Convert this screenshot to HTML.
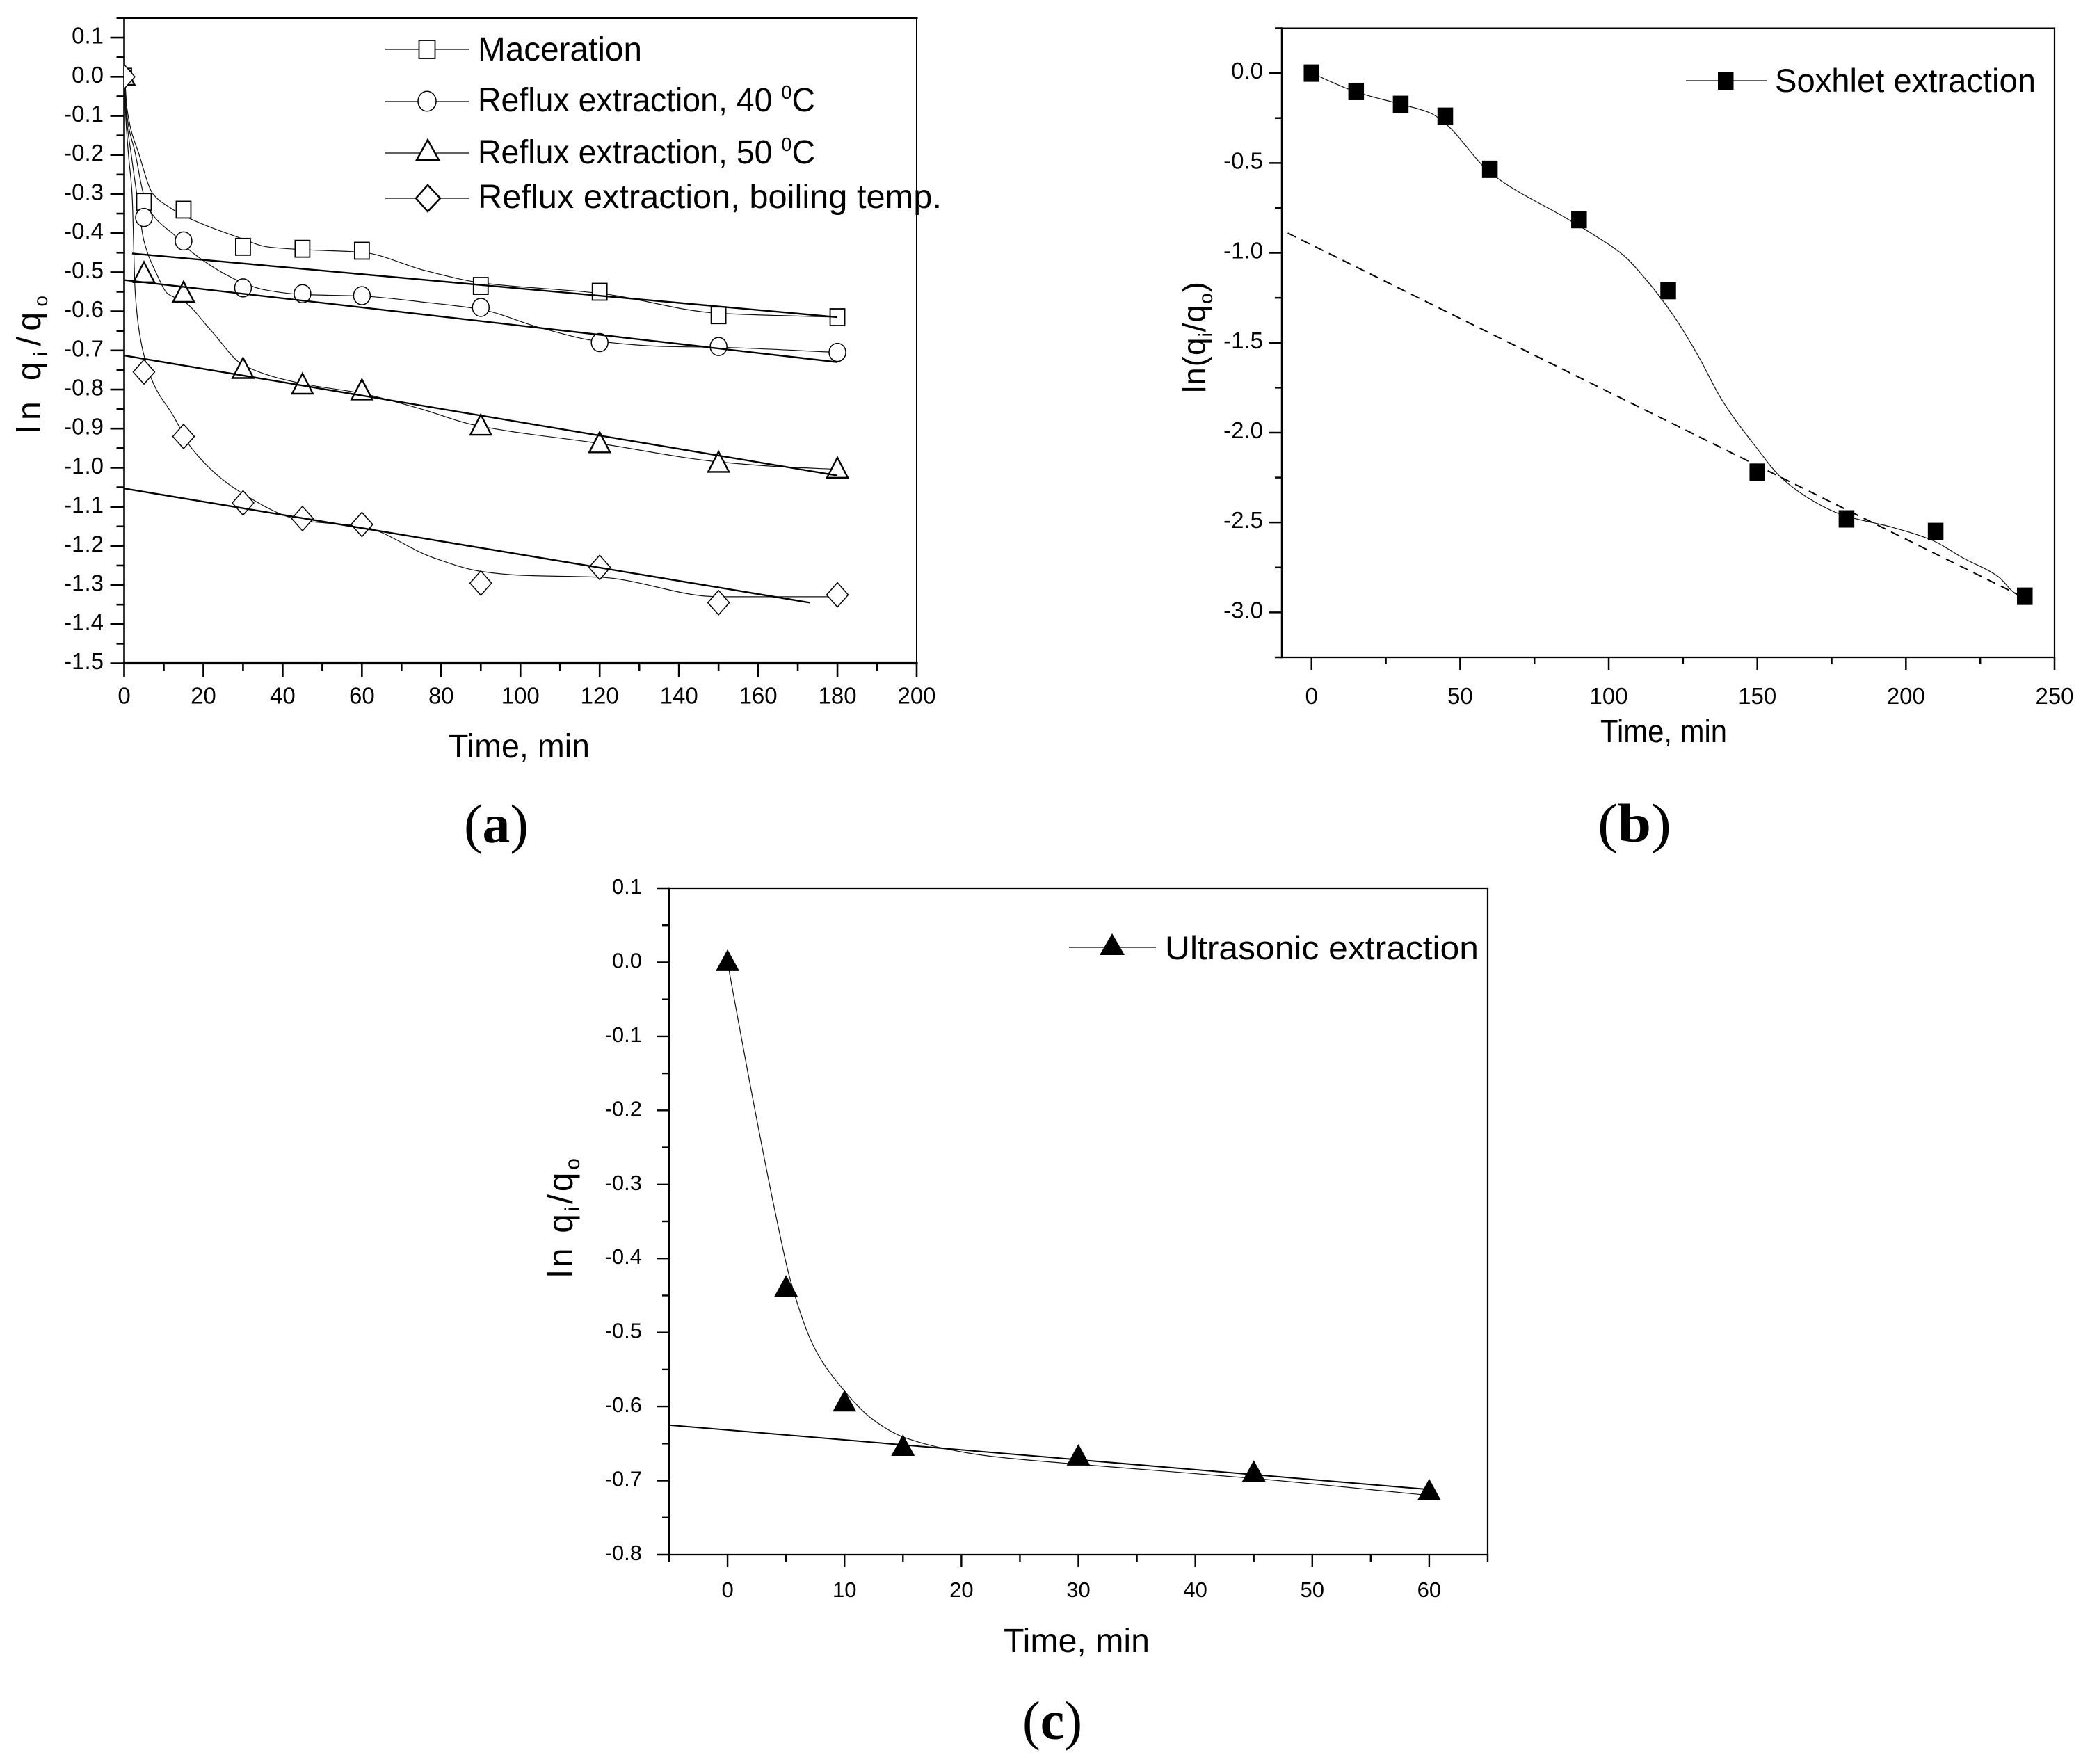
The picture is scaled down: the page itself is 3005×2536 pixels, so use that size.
<!DOCTYPE html>
<html lang="en">
<head>
<meta charset="utf-8">
<title>Extraction kinetics plots</title>
<style>
html,body{margin:0;padding:0;background:#fff;width:3005px;height:2536px;overflow:hidden}
svg{display:block}
text{font-family:"Liberation Sans",sans-serif;fill:#000}
.serif{font-family:"Liberation Serif",serif}
</style>
</head>
<body>
<svg id="figure" xmlns="http://www.w3.org/2000/svg" width="3005" height="2536" viewBox="0 0 3005 2536">
<rect width="3005" height="2536" fill="#fff"/>
<defs>
<clipPath id="clip-a"><rect x="179" y="25" width="1139" height="928"/></clipPath>
</defs>
<g id="panel-a"></g>
<g id="panel-b"></g>
<g id="panel-c"></g>

<g fill="none" stroke="#000">
<line x1="554" x2="675" y1="71" y2="71" stroke-width="1.2"/>
<rect x="602.5" y="58" width="23" height="26" fill="#fff" stroke-width="1.8"/>
<line x1="554" x2="675" y1="146" y2="146" stroke-width="1.2"/>
<ellipse cx="614" cy="145.5" rx="13" ry="14.3" fill="#fff" stroke-width="1.5"/>
<line x1="554" x2="675" y1="220" y2="220" stroke-width="1.2"/>
<polygon points="615,201 631,230 599,230" fill="#fff" stroke-width="2.5"/>
<line x1="554" x2="675" y1="285" y2="285" stroke-width="1.2"/>
<polygon points="615,266 633,285 615,304 598,285" fill="#fff" stroke-width="2.5"/>
</g>
<text x="687" y="87" font-size="48" textLength="236" lengthAdjust="spacingAndGlyphs">Maceration</text>
<text x="687" y="160" font-size="48" textLength="485" lengthAdjust="spacingAndGlyphs">Reflux extraction, 40 <tspan font-size="28" dy="-18">0</tspan><tspan dy="18">C</tspan></text>
<text x="687" y="235" font-size="48" textLength="485" lengthAdjust="spacingAndGlyphs">Reflux extraction, 50 <tspan font-size="28" dy="-18">0</tspan><tspan dy="18">C</tspan></text>
<text x="687" y="299" font-size="48" textLength="667" lengthAdjust="spacingAndGlyphs">Reflux extraction, boiling temp.</text>

<text x="645" y="1089" font-size="48" textLength="203" lengthAdjust="spacingAndGlyphs">Time, min</text>
<text transform="translate(58,623) rotate(-90)" font-size="48" textLength="198" lengthAdjust="spacing">ln q<tspan font-size="28" dy="10">i</tspan><tspan dy="-10">/q</tspan><tspan font-size="28" dy="10">o</tspan></text>
<text class="serif" x="667" y="1211" font-size="78" textLength="93" lengthAdjust="spacingAndGlyphs">(<tspan font-weight="bold">a</tspan>)</text>

<g>
<line x1="2424" x2="2540" y1="116" y2="116" stroke="#000" stroke-width="1.2"/>
<rect x="2470" y="104" width="22.5" height="25" fill="#000"/>
</g>
<text x="2552" y="132" font-size="47" textLength="375" lengthAdjust="spacingAndGlyphs">Soxhlet extraction</text>
<text x="2301" y="1067" font-size="46" textLength="182" lengthAdjust="spacingAndGlyphs">Time, min</text>
<text transform="translate(1733,565) rotate(-90)" font-size="46" textLength="160" lengthAdjust="spacing">ln(q<tspan font-size="28" dy="10">i</tspan><tspan dy="-10">/q</tspan><tspan font-size="28" dy="10">o</tspan><tspan dy="-10">)</tspan></text>
<text class="serif" x="2297" y="1210" font-size="78" textLength="106" lengthAdjust="spacingAndGlyphs">(<tspan font-weight="bold">b</tspan>)</text>

<g>
<line x1="1537" x2="1662" y1="1362" y2="1362" stroke="#000" stroke-width="1.2"/>
<polygon points="1599,1342 1617,1373 1581,1373" fill="#000"/>
</g>
<text x="1675" y="1379" font-size="47" textLength="451" lengthAdjust="spacingAndGlyphs">Ultrasonic extraction</text>
<text x="1443" y="2375" font-size="48" textLength="210" lengthAdjust="spacingAndGlyphs">Time, min</text>
<text transform="translate(823,1837) rotate(-90)" font-size="50" textLength="172" lengthAdjust="spacing">ln q<tspan font-size="30" dy="10">i</tspan><tspan dy="-10">/q</tspan><tspan font-size="30" dy="10">o</tspan></text>
<text class="serif" x="1470" y="2500" font-size="78" textLength="86" lengthAdjust="spacingAndGlyphs">(<tspan font-weight="bold">c</tspan>)</text>
</svg>

<script>
// Panel (a) data
const panelATimes = [0, 5, 15, 30, 45, 60, 90, 120, 150, 180];
const macerationValues = [0, -0.32, -0.34, -0.435, -0.44, -0.445, -0.535, -0.55, -0.61, -0.615];
const reflux40Values = [0, -0.36, -0.42, -0.54, -0.555, -0.56, -0.59, -0.68, -0.69, -0.705];
const reflux50Values = [0, -0.505, -0.555, -0.75, -0.79, -0.805, -0.895, -0.94, -0.99, -1.005];
const refluxBoilingValues = [0, -0.755, -0.92, -1.09, -1.13, -1.145, -1.295, -1.255, -1.345, -1.325];
const macerationCurveTimes = [0, 0.7, 3.8, 7.3, 11.3, 16, 30, 36, 45, 60, 76, 90, 120, 150, 180];
const macerationCurveValues = [0.03, -0.08, -0.2, -0.3, -0.333, -0.36, -0.415, -0.435, -0.442, -0.449, -0.496, -0.527, -0.554, -0.605, -0.615];
const reflux40CurveTimes = [0, 0.5, 2.9, 4.9, 7, 13, 17.5, 30, 35, 45, 60, 76, 90, 105, 120, 137, 150, 180];
const reflux40CurveValues = [0.03, -0.08, -0.2, -0.3, -0.35, -0.408, -0.452, -0.527, -0.544, -0.557, -0.561, -0.577, -0.595, -0.642, -0.677, -0.69, -0.692, -0.705];
const reflux50CurveTimes = [0, 0.4, 1.8, 3.2, 5, 8, 11, 15, 22, 30, 45, 60, 75, 88, 120, 150, 165, 180];
const reflux50CurveValues = [0.03, -0.08, -0.2, -0.3, -0.42, -0.5, -0.555, -0.574, -0.65, -0.737, -0.785, -0.81, -0.85, -0.89, -0.938, -0.985, -0.997, -1.004];
const refluxBoilingCurveTimes = [0, 0.3, 1.1, 2, 2.8, 4.5, 7.4, 12.4, 17, 29, 45, 60, 78, 90, 100, 120, 150, 170, 180];
const refluxBoilingCurveValues = [0.03, -0.08, -0.2, -0.3, -0.554, -0.69, -0.785, -0.867, -0.95, -1.06, -1.135, -1.15, -1.23, -1.265, -1.275, -1.28, -1.33, -1.33, -1.33];
const macerationFitTimes = [2, 180];
const macerationFitValues = [-0.452, -0.615];
const reflux40FitTimes = [0, 180];
const reflux40FitValues = [-0.52, -0.73];
const reflux50FitTimes = [0, 180];
const reflux50FitValues = [-0.713, -1.02];
const refluxBoilingFitTimes = [0, 173];
const refluxBoilingFitValues = [-1.053, -1.345];
const panelAXTickLabels = ['0','20','40','60','80','100','120','140','160','180','200'];
const panelAXMinorTicks = [10,30,50,70,90,110,130,150,170,190];
const panelAYTickLabels = ['0.1','0.0','-0.1','-0.2','-0.3','-0.4','-0.5','-0.6','-0.7','-0.8','-0.9','-1.0','-1.1','-1.2','-1.3','-1.4','-1.5'];
const panelAYMinorTicks = [0.15,0.05,-0.05,-0.15,-0.25,-0.35,-0.45,-0.55,-0.65,-0.75,-0.85,-0.95,-1.05,-1.15,-1.25,-1.35,-1.45];

// Panel (b) data
const soxhletTimes = [0, 15, 30, 45, 60, 90, 120, 150, 180, 210, 240];
const soxhletValues = [0, -0.102, -0.174, -0.24, -0.535, -0.815, -1.21, -2.22, -2.48, -2.55, -2.91];
const soxhletCurveTimes = [0, 15, 30, 40, 45, 60, 86.4, 94, 105, 112, 122, 130, 138, 150, 158, 169.5, 179, 195, 209, 219, 231, 237, 240];
const soxhletCurveValues = [0, -0.105, -0.173, -0.222, -0.28, -0.552, -0.814, -0.89, -1.014, -1.138, -1.354, -1.57, -1.816, -2.09, -2.25, -2.387, -2.46, -2.525, -2.6, -2.695, -2.8, -2.895, -2.91];
const soxhletFitTimes = [-8, 240];
const soxhletFitValues = [-0.89, -2.92];
const panelBXTickLabels = ['0','50','100','150','200','250'];
const panelBXMinorTicks = [25,75,125,175,225];
const panelBYTickLabels = ['0.0','-0.5','-1.0','-1.5','-2.0','-2.5','-3.0'];
const panelBYMinorTicks = [0.25,-0.25,-0.75,-1.25,-1.75,-2.25,-2.75,-3.25];

// Panel (c) data
const ultrasonicTimes = [0, 5, 10, 15, 30, 45, 60];
const ultrasonicValues = [0, -0.44, -0.595, -0.655, -0.668, -0.69, -0.715];
const ultrasonicCurveTimes = [0, 1.7, 4.08, 5.4, 7.5, 9.9, 12.3, 15, 20.3, 23, 30, 45, 60];
const ultrasonicCurveValues = [0, -0.146, -0.338, -0.431, -0.523, -0.577, -0.616, -0.641, -0.662, -0.668, -0.678, -0.697, -0.72];
const ultrasonicFitTimes = [-5, 60];
const ultrasonicFitValues = [-0.625, -0.712];
const panelCXTickLabels = ['0','10','20','30','40','50','60'];
const panelCXMinorTicks = [-5,5,15,25,35,45,55,65];
const panelCYTickLabels = ['0.1','0.0','-0.1','-0.2','-0.3','-0.4','-0.5','-0.6','-0.7','-0.8'];
const panelCYMinorTicks = [0.05,-0.05,-0.15,-0.25,-0.35,-0.45,-0.55,-0.65,-0.75];

const NS = 'http://www.w3.org/2000/svg';

function linearScale(d0, d1, r0, r1) {
  return function (v) { return r0 + (v - d0) * (r1 - r0) / (d1 - d0); };
}

function createSvg(parent, tag, attrs) {
  const node = document.createElementNS(NS, tag);
  Object.keys(attrs).forEach(function (k) { node.setAttribute(k, attrs[k]); });
  parent.appendChild(node);
  return node;
}

// Monotone cubic spline through data points, in pixel space
function splinePath(xs, ys) {
  const n = xs.length;
  const d = [], m = [];
  for (let i = 0; i < n - 1; i++) d.push((ys[i + 1] - ys[i]) / (xs[i + 1] - xs[i]));
  m.push(d[0]);
  for (let i = 1; i < n - 1; i++) {
    if (d[i - 1] * d[i] <= 0) { m.push(0); continue; }
    const w1 = 2 * (xs[i + 1] - xs[i]) + (xs[i] - xs[i - 1]);
    const w2 = (xs[i + 1] - xs[i]) + 2 * (xs[i] - xs[i - 1]);
    m.push((w1 + w2) / (w1 / d[i - 1] + w2 / d[i]));
  }
  m.push(d[n - 2]);
  let path = 'M' + xs[0].toFixed(1) + ' ' + ys[0].toFixed(1);
  for (let i = 0; i < n - 1; i++) {
    const h = (xs[i + 1] - xs[i]) / 3;
    path += 'C' + (xs[i] + h).toFixed(1) + ' ' + (ys[i] + m[i] * h).toFixed(1) + ' ' +
      (xs[i + 1] - h).toFixed(1) + ' ' + (ys[i + 1] - m[i + 1] * h).toFixed(1) + ' ' +
      xs[i + 1].toFixed(1) + ' ' + ys[i + 1].toFixed(1);
  }
  return path;
}

function markerAt(parent, shape, cx, cy, size, filled, strokeWidth) {
  const fill = filled ? '#000' : '#fff';
  const stroke = filled ? 'none' : '#000';
  const base = { fill: fill, stroke: stroke, 'stroke-width': strokeWidth };
  if (shape === 'square') {
    return createSvg(parent, 'rect', Object.assign({ x: cx - size.w / 2, y: cy - size.h / 2, width: size.w, height: size.h }, base));
  }
  if (shape === 'circle') {
    return createSvg(parent, 'ellipse', Object.assign({ cx: cx, cy: cy, rx: size.w / 2, ry: size.h / 2 }, base));
  }
  if (shape === 'triangle') {
    const pts = cx + ',' + (cy - size.h * 0.6) + ' ' + (cx + size.w / 2) + ',' + (cy + size.h * 0.4) + ' ' + (cx - size.w / 2) + ',' + (cy + size.h * 0.4);
    return createSvg(parent, 'polygon', Object.assign({ points: pts }, base));
  }
  const pts = cx + ',' + (cy - size.h / 2) + ' ' + (cx + size.w / 2) + ',' + cy + ' ' + cx + ',' + (cy + size.h / 2) + ' ' + (cx - size.w / 2) + ',' + cy;
  return createSvg(parent, 'polygon', Object.assign({ points: pts }, base));
}

function drawAxes(g, cfg, sx, sy, xLabels, xMinor, yLabels, yMinor) {
  const frame = createSvg(g, 'g', { stroke: '#000', fill: 'none' });
  
  
  const sides = [
    ['left-axis-line', cfg.left, cfg.top, cfg.left, cfg.bottom, cfg.leftWidth],
    ['right-axis-line', cfg.right, cfg.top, cfg.right, cfg.bottom, cfg.rightWidth],
    ['top-axis-line', cfg.left, cfg.top, cfg.right, cfg.top, cfg.topWidth],
    ['bottom-axis-line', cfg.left, cfg.bottom, cfg.right, cfg.bottom, cfg.bottomWidth]
  ];
  sides.forEach(function (s) {
    const line = createSvg(frame, 'line', { x1: s[1], y1: s[2], x2: s[3], y2: s[4], 'stroke-width': s[5], 'stroke-linecap': 'square' });
    
    
  });
  xLabels.forEach(function (label) {
    const x = sx(parseFloat(label));
    const tick = createSvg(frame, 'line', { x1: x, x2: x, y1: cfg.bottom, y2: cfg.bottom + cfg.major, 'stroke-width': cfg.tickWidth });
    
    
    const t = createSvg(g, 'text', { x: x, y: cfg.xLabelY, 'font-size': cfg.labelSize, 'text-anchor': 'middle' });
    
    
    t.textContent = label;
  });
  xMinor.forEach(function (v) {
    const x = sx(v);
    const tick = createSvg(frame, 'line', { x1: x, x2: x, y1: cfg.bottom, y2: cfg.bottom + cfg.minor, 'stroke-width': cfg.tickWidth });
    
    
  });
  yLabels.forEach(function (label) {
    const y = sy(parseFloat(label));
    const tick = createSvg(frame, 'line', { x1: cfg.left - cfg.major, x2: cfg.left, y1: y, y2: y, 'stroke-width': cfg.tickWidth });
    
    
    const t = createSvg(g, 'text', { x: cfg.yLabelX, y: y + cfg.labelDrop, 'font-size': cfg.labelSize, 'text-anchor': 'end' });
    
    
    t.textContent = label;
  });
  yMinor.forEach(function (v) {
    const y = sy(v);
    const tick = createSvg(frame, 'line', { x1: cfg.left - cfg.minor, x2: cfg.left, y1: y, y2: y, 'stroke-width': cfg.tickWidth });
    
    
  });
}

function drawCurve(parent, sx, sy, times, values, seriesName) {
  const path = createSvg(parent, 'path', {
    d: splinePath(times.map(sx), values.map(sy)),
    fill: 'none', stroke: '#111', 'stroke-width': 1.2
  });
  
  
}

function drawMarkers(parent, sx, sy, times, values, seriesName, shape, size, filled, strokeWidth) {
  times.forEach(function (t, i) {
    const mark = markerAt(parent, shape, sx(t), sy(values[i]), size, filled, strokeWidth);
    
    
  });
}

function drawFit(parent, sx, sy, times, values, seriesName, width, dash) {
  const line = createSvg(parent, 'line', {
    x1: sx(times[0]), y1: sy(values[0]), x2: sx(times[1]), y2: sy(values[1]),
    stroke: '#000', 'stroke-width': width
  });
  if (dash) line.setAttribute('stroke-dasharray', dash);
  
  
}

// ---- Panel (a) ----
(function () {
  const g = document.getElementById('panel-a');
  const cfg = { left: 178.5, right: 1318, top: 26, bottom: 953.5, leftWidth: 2.6, rightWidth: 2, topWidth: 3, bottomWidth: 3.2, major: 20, minor: 11, tickWidth: 2.6, labelSize: 33, labelDrop: 8.5, xLabelY: 1011.5, yLabelX: 149 };
  const sx = linearScale(0, 200, cfg.left, cfg.right);
  const sy = linearScale(0.15, -1.5, cfg.top, cfg.bottom);
  drawAxes(g, cfg, sx, sy, panelAXTickLabels, panelAXMinorTicks, panelAYTickLabels, panelAYMinorTicks);
  const plot = createSvg(g, 'g', { 'clip-path': 'url(#clip-a)' });
  
  
  drawCurve(plot, sx, sy, macerationCurveTimes, macerationCurveValues, 'maceration');
  drawCurve(plot, sx, sy, reflux40CurveTimes, reflux40CurveValues, 'reflux-40');
  drawCurve(plot, sx, sy, reflux50CurveTimes, reflux50CurveValues, 'reflux-50');
  drawCurve(plot, sx, sy, refluxBoilingCurveTimes, refluxBoilingCurveValues, 'reflux-boiling');
  drawMarkers(plot, sx, sy, panelATimes, macerationValues, 'maceration', 'square', { w: 21, h: 24 }, false, 1.8);
  drawMarkers(plot, sx, sy, panelATimes, reflux40Values, 'reflux-40', 'circle', { w: 24, h: 26 }, false, 1.5);
  drawMarkers(plot, sx, sy, panelATimes, reflux50Values, 'reflux-50', 'triangle', { w: 30, h: 29 }, false, 2.4);
  drawMarkers(plot, sx, sy, panelATimes, refluxBoilingValues, 'reflux-boiling', 'diamond', { w: 31, h: 35 }, false, 1.5);
  drawFit(plot, sx, sy, macerationFitTimes, macerationFitValues, 'maceration', 2.4);
  drawFit(plot, sx, sy, reflux40FitTimes, reflux40FitValues, 'reflux-40', 2.4);
  drawFit(plot, sx, sy, reflux50FitTimes, reflux50FitValues, 'reflux-50', 2.4);
  drawFit(plot, sx, sy, refluxBoilingFitTimes, refluxBoilingFitValues, 'reflux-boiling', 2.4);
})();

// ---- Panel (b) ----
(function () {
  const g = document.getElementById('panel-b');
  const cfg = { left: 1843, right: 2954, top: 40.5, bottom: 945, leftWidth: 2.5, rightWidth: 2.2, topWidth: 2, bottomWidth: 2.2, major: 18, minor: 10, tickWidth: 2.5, labelSize: 33, labelDrop: 8, xLabelY: 1012, yLabelX: 1816 };
  const sx = linearScale(-10, 250, cfg.left, cfg.right);
  const sy = linearScale(0.25, -3.25, cfg.top, cfg.bottom);
  drawAxes(g, cfg, sx, sy, panelBXTickLabels, panelBXMinorTicks, panelBYTickLabels, panelBYMinorTicks);
  drawCurve(g, sx, sy, soxhletCurveTimes, soxhletCurveValues, 'soxhlet');
  drawFit(g, sx, sy, soxhletFitTimes, soxhletFitValues, 'soxhlet', 2, '13 9');
  drawMarkers(g, sx, sy, soxhletTimes, soxhletValues, 'soxhlet', 'square', { w: 22.5, h: 25 }, true, 0);
})();

// ---- Panel (c) ----
(function () {
  const g = document.getElementById('panel-c');
  const cfg = { left: 962, right: 2139, top: 1277, bottom: 2235, leftWidth: 2.4, rightWidth: 2.2, topWidth: 2.2, bottomWidth: 2.2, major: 18, minor: 10, tickWidth: 2.4, labelSize: 31, labelDrop: 8, xLabelY: 2296, yLabelX: 923 };
  const sx = linearScale(-5, 65, cfg.left, cfg.right);
  const sy = linearScale(0.1, -0.8, cfg.top, cfg.bottom);
  drawAxes(g, cfg, sx, sy, panelCXTickLabels, panelCXMinorTicks, panelCYTickLabels, panelCYMinorTicks);
  drawCurve(g, sx, sy, ultrasonicCurveTimes, ultrasonicCurveValues, 'ultrasonic');
  drawFit(g, sx, sy, ultrasonicFitTimes, ultrasonicFitValues, 'ultrasonic', 2);
  drawMarkers(g, sx, sy, ultrasonicTimes, ultrasonicValues, 'ultrasonic', 'triangle', { w: 34, h: 31 }, true, 0);
})();
</script>
</body>
</html>
